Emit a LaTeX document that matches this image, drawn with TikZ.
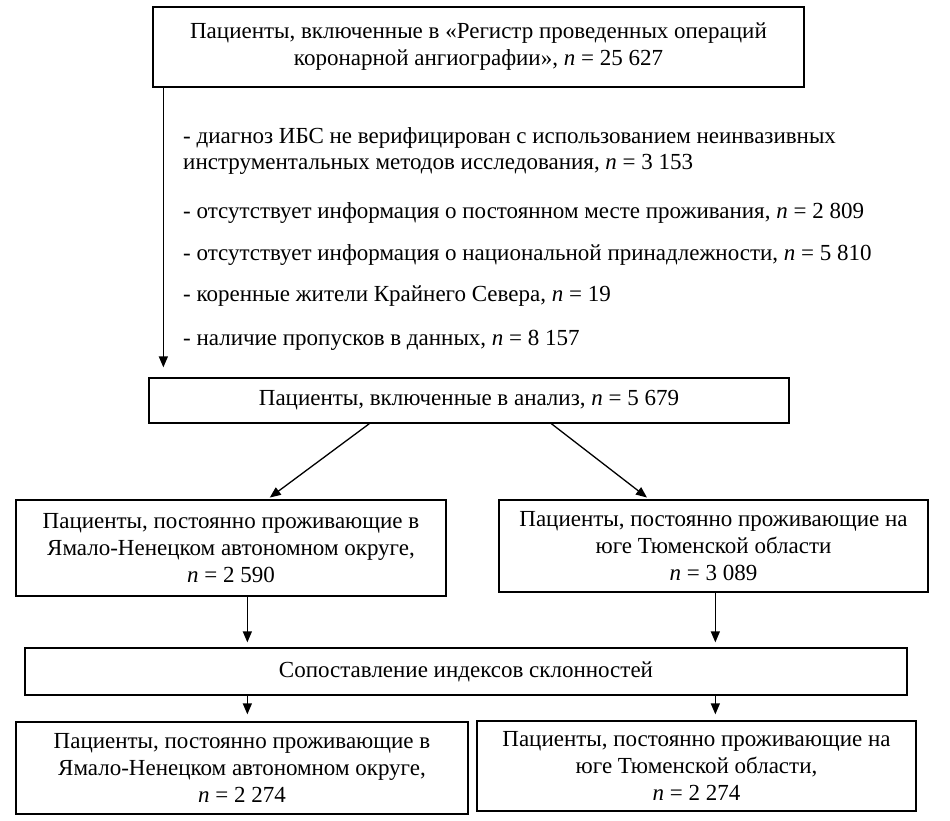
\documentclass[tikz,border=0pt]{standalone}
\usepackage{fontspec}
\setmainfont{Liberation Serif}
\usetikzlibrary{arrows.meta}
\newcommand\myfs{\fontsize{23}{27}\selectfont}
\begin{document}
\begin{tikzpicture}[x=1pt,y=-1pt,
  box/.style={draw, line width=1.3pt, inner sep=0pt, align=center, font=\myfs},
  txt/.style={inner sep=0pt, anchor=base west, font=\myfs},
  arr/.style={-{Triangle[length=11pt,width=9pt]}, line width=1.3pt}]
\useasboundingbox[fill=white] (0,0) rectangle (950,820);

\node[box, minimum width=651pt, minimum height=80pt] (top) at (478.5,47)
  {Пациенты, включенные в «Регистр проведенных операций\\коронарной ангиографии», \textit{n} = 25 627};

\node[txt] (x1a) at (183,143) {- диагноз ИБС не верифицирован с использованием неинвазивных};
\node[txt] (x1b) at (183,169) {инструментальных методов исследования, \textit{n} = 3 153};
\node[txt] (x2) at (183,218) {- отсутствует информация о постоянном месте проживания, \textit{n} = 2 809};
\node[txt] (x3) at (183,260) {- отсутствует информация о национальной принадлежности, \textit{n} = 5 810};
\node[txt] (x4) at (183,301) {- коренные жители Крайнего Севера, \textit{n} = 19};
\node[txt] (x5) at (183,345) {- наличие пропусков в данных, \textit{n} = 8 157};

\node[box, minimum width=640pt, minimum height=45pt] (b2) at (469,400.5)
  {Пациенты, включенные в анализ, \textit{n} = 5 679};

\node[box, minimum width=430pt, minimum height=96pt] (l1) at (231,548)
  {Пациенты, постоянно проживающие в\\Ямало-Ненецком автономном округе,\\\textit{n} = 2 590};
\node[box, minimum width=429pt, minimum height=92pt] (r1) at (713.5,546)
  {Пациенты, постоянно проживающие на\\юге Тюменской области\\\textit{n} = 3 089};

\node[box, minimum width=882pt, minimum height=47pt] (b3) at (466,671.5)
  {Сопоставление индексов склонностей};

\node[box, minimum width=452pt, minimum height=92pt] (l2) at (242,768)
  {Пациенты, постоянно проживающие в\\Ямало-Ненецком автономном округе,\\\textit{n} = 2 274};
\node[box, minimum width=439pt, minimum height=90pt] (r2) at (696.5,766)
  {Пациенты, постоянно проживающие на\\юге Тюменской области,\\\textit{n} = 2 274};

% connectors
\path (top.south west) ++(11,0) coordinate (c0);
\draw[arr, shorten >=10pt] (c0) -- (c0 |- b2.north);

\path (b2.south west) ++(221,0) coordinate (d1);
\path (l1.north west) ++(252,0) coordinate (d1e);
\draw[arr, shorten >=3pt] (d1) -- (d1e);
\path (b2.south west) ++(403,0) coordinate (d2);
\path (r1.north west) ++(151,0) coordinate (d2e);
\draw[arr, shorten >=3pt] (d2) -- (d2e);

\path (l1.south west) ++(232,0) coordinate (v1);
\draw[arr, shorten >=5pt] (v1) -- (v1 |- b3.north);
\path (r1.south west) ++(217,0) coordinate (v2);
\draw[arr, shorten >=5pt] (v2) -- (v2 |- b3.north);

\path (b3.south west) ++(223,0) coordinate (v3);
\draw[arr, shorten >=7pt] (v3) -- (v3 |- l2.north);
\path (b3.south west) ++(691,0) coordinate (v4);
\draw[arr, shorten >=6pt] (v4) -- (v4 |- r2.north);
\end{tikzpicture}
\end{document}
